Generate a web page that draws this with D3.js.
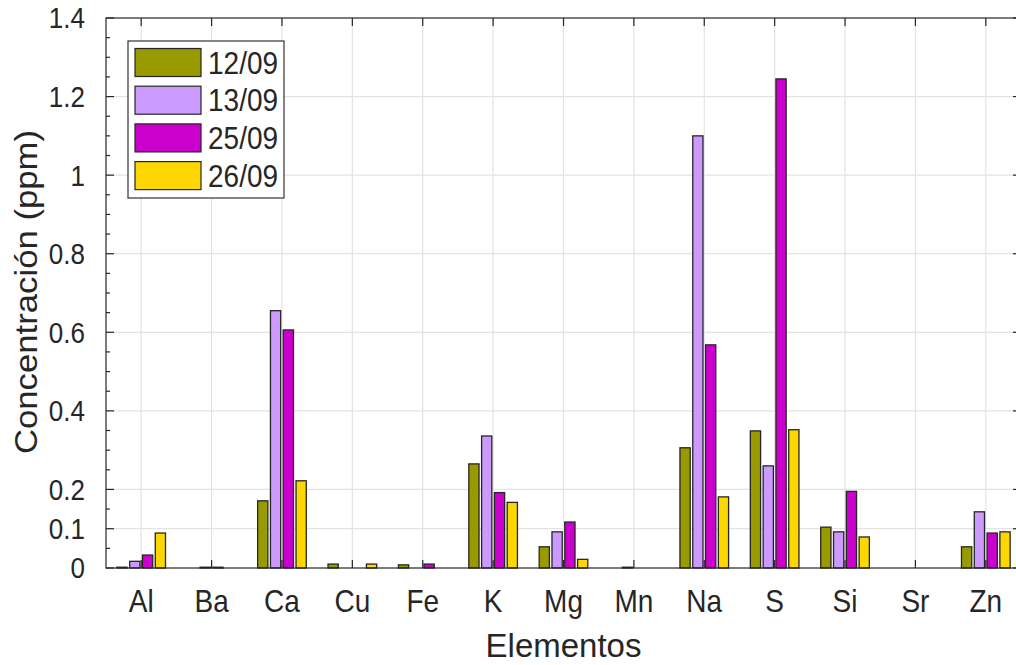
<!DOCTYPE html>
<html>
<head>
<meta charset="utf-8">
<script src="https://cdn.jsdelivr.net/npm/d3@7"></script>
<style>
  html, body { margin: 0; padding: 0; background: #fff; }
  svg { display: block; }
  text { font-family: "Liberation Sans", Arial, Helvetica, sans-serif; fill: #262626; }
</style>
</head>
<body>
<svg id="chart" width="1016" height="665"></svg>
<script>
// ---- data ----
const categories = ["Al","Ba","Ca","Cu","Fe","K","Mg","Mn","Na","S","Si","Sr","Zn"];
const seriesNames = ["12/09","13/09","25/09","26/09"];
const s1209 = [0.002, 0,     0.171, 0.010, 0.008, 0.265, 0.054, 0,     0.306, 0.349, 0.104, 0, 0.054];
const s1309 = [0.017, 0.002, 0.655, 0,     0,     0.336, 0.092, 0.002, 1.100, 0.260, 0.092, 0, 0.143];
const s2509 = [0.033, 0.002, 0.606, 0,     0.010, 0.192, 0.117, 0,     0.568, 1.245, 0.195, 0, 0.089];
const s2609 = [0.089, 0,     0.222, 0.010, 0,     0.167, 0.022, 0,     0.181, 0.352, 0.079, 0, 0.092];
const yTicks = [0, 0.1, 0.2, 0.4, 0.6, 0.8, 1, 1.2, 1.4];
const yTickLabels = ["0","0.1","0.2","0.4","0.6","0.8","1","1.2","1.4"];
const colors = ["#999900", "#cc99ff", "#cc00cc", "#ffd700"];
const xLabel = "Elementos";
const yLabel = "Concentración (ppm)";

const seriesValues = [s1209, s1309, s2509, s2609];

// ---- layout ----
const L = 106, R = 1021, T = 18, B = 568;
const STRETCH = 1.12;
const svg = d3.select("#chart");

const x0 = d3.scaleBand().domain(categories).range([L, R]).paddingInner(0).paddingOuter(0);
const bw = x0.bandwidth();
const gw = 4 / (4 + 1.5);
const x1 = d3.scaleBand().domain(seriesNames)
  .range([-gw / 2 * bw, gw / 2 * bw]).paddingInner(0.2).paddingOuter(0.1);
const y = d3.scaleLinear().domain([0, 1.4]).range([B, T]);

// grid
const grid = svg.append("g");
yTicks.filter(v => v > 0 && v < 1.4).forEach(v => {
  grid.append("line").attr("x1", L).attr("x2", R).attr("y1", y(v)).attr("y2", y(v))
    .attr("stroke", "#e3e3e3").attr("stroke-width", 1.2);
});
categories.forEach(c => {
  const cx = x0(c) + bw / 2;
  grid.append("line").attr("x1", cx).attr("x2", cx).attr("y1", T).attr("y2", B)
    .attr("stroke", "#e3e3e3").attr("stroke-width", 1.2);
});

// bottom/top category ticks (behind bars)
const tickG = svg.append("g").attr("stroke", "#262626").attr("stroke-width", 1.2);
categories.forEach(c => {
  const cx = x0(c) + bw / 2;
  tickG.append("line").attr("x1", cx).attr("x2", cx).attr("y1", B).attr("y2", B - 8);
  tickG.append("line").attr("x1", cx).attr("x2", cx).attr("y1", T).attr("y2", T + 8);
});

// bars
const barG = svg.append("g");
categories.forEach((c, i) => {
  const cx = x0(c) + bw / 2;
  seriesNames.forEach((s, j) => {
    const v = seriesValues[j][i];
    if (v <= 0) return;
    barG.append("rect")
      .attr("x", cx + x1(s))
      .attr("width", x1.bandwidth())
      .attr("y", y(v))
      .attr("height", Math.max(0.5, y(0) - y(v)))
      .attr("fill", colors[j])
      .attr("stroke", "#262626")
      .attr("stroke-width", 1.3);
  });
});

// y ticks (major + minor, inward, left and right)
const axG = svg.append("g").attr("stroke", "#262626").attr("stroke-width", 1.2);
const minor = d3.range(0, 1.4001, 0.05).filter(v => !yTicks.some(t => Math.abs(t - v) < 1e-6));
yTicks.forEach(v => {
  axG.append("line").attr("x1", L).attr("x2", L + 8).attr("y1", y(v)).attr("y2", y(v));
  axG.append("line").attr("x1", R).attr("x2", R - 8).attr("y1", y(v)).attr("y2", y(v));
});
minor.forEach(v => {
  axG.append("line").attr("x1", L).attr("x2", L + 4).attr("y1", y(v)).attr("y2", y(v));
  axG.append("line").attr("x1", R).attr("x2", R - 4).attr("y1", y(v)).attr("y2", y(v));
});
// box
axG.append("rect").attr("x", L).attr("y", T).attr("width", R - L).attr("height", B - T)
  .attr("fill", "none");

// y tick labels
yTicks.forEach((v, i) => {
  svg.append("text")
    .attr("transform", `translate(${L - 21},${y(v)}) scale(1,${STRETCH})`)
    .attr("text-anchor", "end").attr("dy", "0.36em")
    .attr("font-size", 26).text(yTickLabels[i]);
});

// x tick labels
categories.forEach(c => {
  const cx = x0(c) + bw / 2;
  svg.append("text")
    .attr("transform", `translate(${cx},${612}) scale(1,${STRETCH})`)
    .attr("text-anchor", "middle")
    .attr("font-size", 28).text(c);
});

// axis labels
svg.append("text")
  .attr("transform", `translate(${(L + R) / 2},${657}) scale(1,1.02)`)
  .attr("text-anchor", "middle").attr("font-size", 33).text(xLabel);
svg.append("text")
  .attr("transform", `translate(${37},${292}) rotate(-90) scale(${STRETCH},1)`)
  .attr("text-anchor", "middle").attr("font-size", 31).text(yLabel);

// legend
const lg = svg.append("g");
lg.append("rect").attr("x", 128).attr("y", 41).attr("width", 156).attr("height", 157)
  .attr("fill", "#fff").attr("stroke", "#333").attr("stroke-width", 1.2);
seriesNames.forEach((s, j) => {
  const yy = 48.5 + j * 37.7;
  lg.append("rect").attr("x", 135).attr("y", yy).attr("width", 66).attr("height", 28)
    .attr("fill", colors[j]).attr("stroke", "#262626").attr("stroke-width", 1.2);
  lg.append("text")
    .attr("transform", `translate(208,${yy + 14}) scale(1,${STRETCH})`)
    .attr("dy", "0.36em").attr("font-size", 28).attr("fill", "#000").text(s);
});
</script>
</body>
</html>
